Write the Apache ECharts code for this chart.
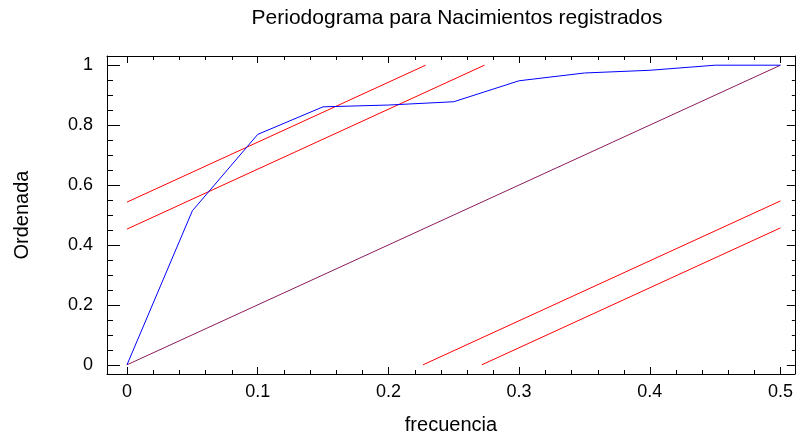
<!DOCTYPE html>
<html>
<head>
<meta charset="utf-8">
<script src="https://cdn.jsdelivr.net/npm/echarts@6/dist/echarts.min.js"></script>
<style>
  html, body { margin: 0; padding: 0; background: #fff; }
  #chart { width: 796px; height: 440px; }
</style>
</head>
<body>
<div id="chart"></div>
<script>
// Cumulative periodogram of registered births
const frequencies = [0, 0.05, 0.1, 0.15, 0.2, 0.25, 0.3, 0.35, 0.4, 0.45, 0.5];
const cumulative  = [0, 0.514, 0.769, 0.861, 0.867, 0.878, 0.948, 0.974, 0.983, 1.0, 1.0];
// Kolmogorov-Smirnov band half-widths (outer, inner)
const ksBounds = [0.543, 0.453];
const xTicks = [0, 0.1, 0.2, 0.3, 0.4, 0.5];
const yTicks = [0, 0.2, 0.4, 0.6, 0.8, 1];

const xMinor = [];
for (let i = 0; i <= 25; i++) xMinor.push(+(i * 0.02).toFixed(2));
const yMinor = [];
for (let i = 0; i <= 20; i++) yMinor.push(+(i * 0.05).toFixed(2));

const FONT = 'Liberation Sans, Arial, sans-serif';
const X_MIN = -0.0153, X_MAX = 0.511, Y_MIN = -0.0307, Y_MAX = 1.0307;

// short ticks between the labelled ones: [value, axis (0 = x, 1 = y)]
function isMultiple(v, step) { return Math.abs(v / step - Math.round(v / step)) < 1e-6; }
const minorItems = [];
xMinor.forEach(function (v) { if (!isMultiple(v, 0.1)) minorItems.push([v, 0]); });
yMinor.forEach(function (v) { if (!isMultiple(v, 0.2)) minorItems.push([v, 1]); });

function renderMinorTick(params, api) {
  const cs = params.coordSys;
  const v = api.value(0);
  const axis = api.value(1);
  const st = { stroke: '#000', lineWidth: 1, fill: null };
  if (axis === 0) {
    const px = Math.round(api.coord([v, 0.5])[0]) + 0.5;
    const b = cs.y + cs.height, t = cs.y;
    return { type: 'group', children: [
      { type: 'line', shape: { x1: px, y1: b, x2: px, y2: b - 4 }, style: st },
      { type: 'line', shape: { x1: px, y1: t, x2: px, y2: t + 4 }, style: st }
    ] };
  }
  const py = Math.round(api.coord([0.25, v])[1]) + 0.5;
  const l = cs.x, r = cs.x + cs.width;
  return { type: 'group', children: [
    { type: 'line', shape: { x1: l, y1: py, x2: l + 6, y2: py }, style: st },
    { type: 'line', shape: { x1: r, y1: py, x2: r - 3, y2: py }, style: st }
  ] };
}

function lineSeries(data, color) {
  return {
    type: 'line', data: data, symbol: 'none',
    lineStyle: { color: color, width: 1 }
  };
}

const series = [];
series.push(lineSeries([[0, 0], [0.5, 1]], '#8b1a5a'));
ksBounds.forEach(function (b) {
  series.push(lineSeries([[0, b], [(1 - b) / 2, 1]], '#ff0000'));
  series.push(lineSeries([[b / 2, 0], [0.5, 1 - b]], '#ff0000'));
});
series.push(lineSeries(frequencies.map(function (f, i) { return [f, cumulative[i]]; }), '#0000ff'));
series.push({ type: 'custom', data: minorItems, renderItem: renderMinorTick, z: 10 });

const chart = echarts.init(document.getElementById('chart'));
chart.setOption({
  animation: false,
  title: {
    text: 'Periodograma para Nacimientos registrados',
    left: 452, top: 3, textAlign: 'center',
    textStyle: { fontSize: 21, fontWeight: 'normal', color: '#000', fontFamily: FONT }
  },
  grid: { left: 107, top: 56, width: 688, height: 321 },
  xAxis: [
    { type: 'value', position: 'bottom', min: X_MIN, max: X_MAX,
      axisLine: { show: true, onZero: false, lineStyle: { color: '#000' } },
      splitLine: { show: false },
      axisTick: { show: true, inside: true, length: 7, customValues: xTicks },
      axisLabel: { customValues: xTicks, fontSize: 18, color: '#000', fontFamily: FONT, margin: 9 },
      name: 'frecuencia', nameLocation: 'middle', nameGap: 41,
      nameTextStyle: { fontSize: 20, color: '#000', fontFamily: FONT } },
    { type: 'value', position: 'top', min: X_MIN, max: X_MAX,
      axisLine: { show: true, onZero: false, lineStyle: { color: '#000' } },
      splitLine: { show: false },
      axisTick: { show: true, inside: true, length: 7, customValues: xTicks },
      axisLabel: { show: false } }
  ],
  yAxis: [
    { type: 'value', position: 'left', min: Y_MIN, max: Y_MAX,
      axisLine: { show: true, onZero: false, lineStyle: { color: '#000' } },
      splitLine: { show: false },
      axisTick: { show: true, inside: true, length: 13, customValues: yTicks },
      axisLabel: { customValues: yTicks, fontSize: 18, color: '#000', fontFamily: FONT, margin: 14 },
      name: 'Ordenada', nameLocation: 'middle', nameGap: 75, nameRotate: 90,
      nameTextStyle: { fontSize: 20, color: '#000', fontFamily: FONT } },
    { type: 'value', position: 'right', min: Y_MIN, max: Y_MAX,
      axisLine: { show: true, onZero: false, lineStyle: { color: '#000' } },
      splitLine: { show: false },
      axisTick: { show: true, inside: true, length: 8, customValues: yTicks },
      axisLabel: { show: false } }
  ],
  series: series
});
</script>
</body>
</html>
